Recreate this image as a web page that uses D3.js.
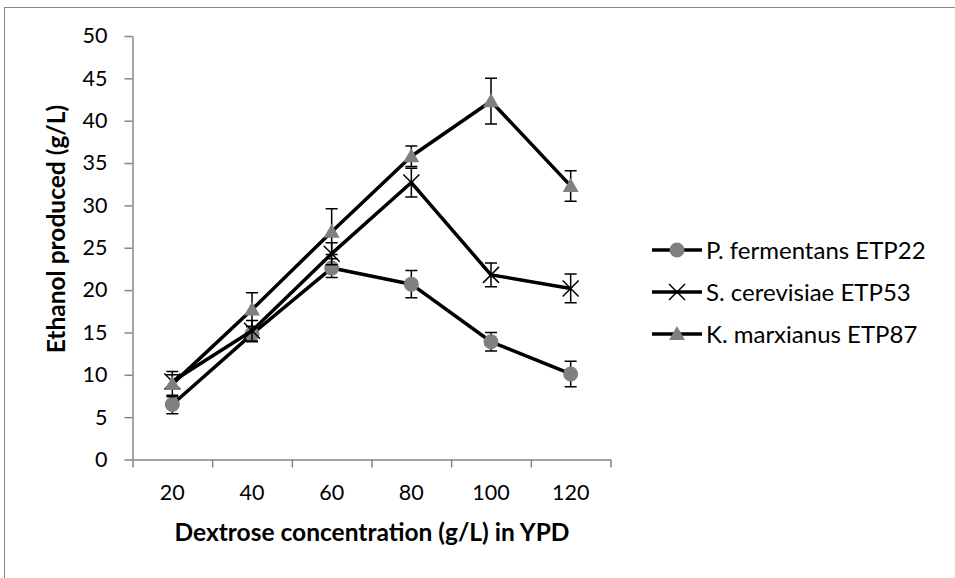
<!DOCTYPE html>
<html>
<head>
<meta charset="utf-8">
<script src="https://cdn.jsdelivr.net/npm/d3@7"></script>
<style>
  body { margin: 0; background: #fff; }
  svg text { font-family: Lato, "Liberation Sans", sans-serif; }
</style>
</head>
<body>
<div id="container"></div>
<script>
const width = 955;
const height = 578;

// dextrose concentration (g/L)
const categories = ['20', '40', '60', '80', '100', '120'];
const yTicks = [0, 5, 10, 15, 20, 25, 30, 35, 40, 45, 50];

const seriesNames = ['P. fermentans ETP22', 'S. cerevisiae ETP53', 'K. marxianus ETP87'];
const pFermentans = [6.5, 14.8, 22.6, 20.7, 13.9, 10.1];
const pFermentansErr = [1.1, 0.9, 1.1, 1.6, 1.1, 1.5];
const sCerevisiae = [9.2, 15.2, 24.3, 32.7, 21.8, 20.2];
const sCerevisiaeErr = [0.8, 1.2, 1.3, 1.7, 1.4, 1.7];
const kMarxianus = [8.9, 17.7, 26.9, 35.8, 42.3, 32.3];
const kMarxianusErr = [1.5, 2.0, 2.7, 1.2, 2.7, 1.8];

const series = [
    { name: seriesNames[0], values: pFermentans, err: pFermentansErr, marker: 'circle' },
    { name: seriesNames[1], values: sCerevisiae, err: sCerevisiaeErr, marker: 'cross' },
    { name: seriesNames[2], values: kMarxianus, err: kMarxianusErr, marker: 'triangle' }
];

const svg = d3.select('#container')
    .append('svg')
    .attr('width', width)
    .attr('height', height);

// outer frame of the chart area
svg.append('rect')
    .attr('x', 4.5)
    .attr('y', 7.5)
    .attr('width', 1000)
    .attr('height', 700)
    .attr('fill', '#fff')
    .attr('stroke', '#898989')
    .attr('stroke-width', 1);

const x = d3.scaleBand()
    .domain(categories)
    .range([132.5, 610.5]);

const xEdges = d3.scaleLinear()
    .domain([0, categories.length])
    .range([132.5, 610.5]);

const y = d3.scaleLinear()
    .domain([0, 50])
    .range([459.5, 36]);

const axisColor = '#868686';

/* Y AXIS */
const yAxis = svg.append('g')
    .attr('transform', 'translate(132.5,0)')
    .call(d3.axisLeft(y).tickValues(yTicks).tickSize(8).tickPadding(17).tickSizeOuter(0));
yAxis.select('.domain').attr('stroke', axisColor).attr('stroke-width', 1.5);
yAxis.selectAll('.tick line').attr('stroke', axisColor).attr('stroke-width', 1.5);
yAxis.selectAll('.tick text')
    .attr('fill', '#000')
    .style('font-size', '21.5px');

/* X AXIS */
const xTicksAxis = svg.append('g')
    .attr('transform', 'translate(0,459.5)')
    .call(d3.axisBottom(xEdges).ticks(categories.length).tickFormat('').tickSize(8).tickSizeOuter(0));
xTicksAxis.select('.domain').attr('stroke', axisColor).attr('stroke-width', 1.5);
xTicksAxis.selectAll('.tick line').attr('stroke', axisColor).attr('stroke-width', 1.5);

const xAxis = svg.append('g')
    .attr('transform', 'translate(0,459.5)')
    .call(d3.axisBottom(x).tickSize(0).tickPadding(25));
xAxis.select('.domain').remove();
xAxis.selectAll('.tick text')
    .attr('fill', '#000')
    .style('font-size', '21.5px');

/* AXIS TITLES */
svg.append('text')
    .attr('x', 372)
    .attr('y', 541)
    .attr('text-anchor', 'middle')
    .style('font-size', '24.5px')
    .style('font-weight', 'bold')
    .text('Dextrose concentration (g/L) in YPD');

svg.append('text')
    .attr('transform', 'translate(65,229) rotate(-90)')
    .attr('text-anchor', 'middle')
    .style('font-size', '24.5px')
    .style('font-weight', 'bold')
    .text('Ethanol produced (g/L)');

/* MARKERS */
function drawMarker(g, type, cx, cy) {
    if (type === 'circle') {
        g.append('circle')
            .attr('cx', cx).attr('cy', cy).attr('r', 7.5)
            .attr('fill', '#808080');
    } else if (type === 'triangle') {
        g.append('path')
            .attr('d', `M${cx},${cy - 8}L${cx + 8},${cy + 6}L${cx - 8},${cy + 6}Z`)
            .attr('fill', '#808080');
    } else {
        g.append('path')
            .attr('d', `M${cx - 8},${cy - 8}L${cx + 8},${cy + 8}M${cx + 8},${cy - 8}L${cx - 8},${cy + 8}`)
            .attr('stroke', '#000')
            .attr('stroke-width', 1.5)
            .attr('fill', 'none');
    }
}

const line = d3.line()
    .x((d, i) => x(categories[i]) + x.bandwidth() / 2)
    .y(d => y(d));

const plot = svg.append('g');

series.forEach(s => {
    const g = plot.append('g');

    g.append('path')
        .datum(s.values)
        .attr('d', line)
        .attr('fill', 'none')
        .attr('stroke', '#000')
        .attr('stroke-width', 3.5)
        .attr('stroke-linejoin', 'round');

    s.values.forEach((v, i) => {
        const cx = x(categories[i]) + x.bandwidth() / 2;
        const top = y(v + s.err[i]);
        const bot = y(v - s.err[i]);
        g.append('path')
            .attr('d', `M${cx},${top}L${cx},${bot}M${cx - 6},${top}L${cx + 6},${top}M${cx - 6},${bot}L${cx + 6},${bot}`)
            .attr('stroke', '#000')
            .attr('stroke-width', 1.5)
            .attr('fill', 'none');
        drawMarker(g, s.marker, cx, y(v));
    });
});

/* LEGEND */
const legend = svg.append('g').attr('id', 'legend');
series.forEach((s, i) => {
    const ly = 250 + i * 42;
    const item = legend.append('g');
    item.append('line')
        .attr('x1', 652).attr('x2', 702)
        .attr('y1', ly).attr('y2', ly)
        .attr('stroke', '#000')
        .attr('stroke-width', 3.5);
    drawMarker(item, s.marker, 677, ly);
    item.append('text')
        .attr('x', 706)
        .attr('y', ly + 8.5)
        .style('font-size', '24px')
        .text(s.name);
});
</script>
</body>
</html>
